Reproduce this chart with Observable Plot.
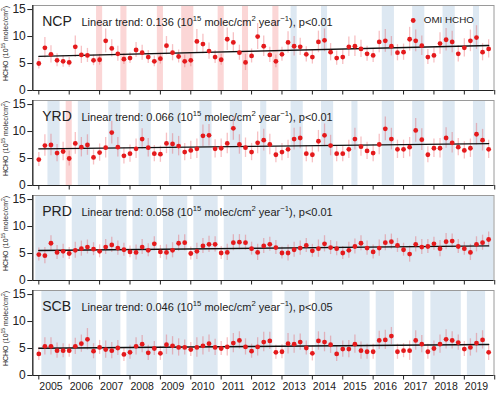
<!DOCTYPE html>
<html><head><meta charset="utf-8">
<script src="https://cdn.jsdelivr.net/npm/d3@7"></script>
<script src="https://cdn.jsdelivr.net/npm/@observablehq/plot@0.6"></script>
<style>body{margin:0;background:#fff} #chart{width:500px;height:393px;overflow:hidden}</style>
</head><body><div id="chart"></div>
<script>
// ---- data (5 warm-season months per year, 2005-2019) ----
const years = [2005,2006,2007,2008,2009,2010,2011,2012,2013,2014,2015,2016,2017,2018,2019];
const panelNames = ["NCP","YRD","PRD","SCB"];
const trendSlopes = [0.136, 0.066, 0.058, 0.046];
const trendP = ["p<0.01","p<0.01","p<0.01","p<0.05"];
const trendStarts = [6.33, 6.79, 5.55, 5.06];
const legendLabel = "OMI HCHO";
const yLabel = "HCHO (10^{15} molec/cm^{2})";

const ncpValues = [5.0,7.9,6.7,5.6,5.4, 5.2,8.1,6.6,6.5,5.6, 5.7,9.2,7.8,6.8,5.8, 6.0,7.5,7.0,6.2,5.4,
  5.9,8.3,7.0,6.3,5.4, 5.6,9.1,8.6,7.3,6.2, 5.7,9.5,8.9,7.0,5.2, 6.4,10.0,8.2,6.6,5.4,
  6.7,8.9,8.2,8.1,6.7, 6.2,9.0,9.3,7.1,6.0, 6.2,8.1,8.2,7.7,6.8, 6.5,9.0,9.2,8.2,7.0,
  7.1,9.5,9.2,8.3,6.2, 6.5,8.7,9.4,9.0,6.8, 7.9,9.2,9.8,7.1,7.7];
const ncpErrors = [1.0,1.9,1.6,1.2,1.1, 0.9,2.0,1.6,1.3,1.0, 1.0,2.2,1.6,1.4,1.0, 1.0,1.4,1.4,1.2,1.0,
  1.0,1.7,1.5,1.2,1.2, 1.2,2.2,1.8,1.5,1.2, 1.0,2.1,1.8,1.4,1.5, 1.3,2.4,1.9,1.4,1.2,
  1.3,2.0,1.8,1.6,1.4, 1.3,2.0,2.1,1.6,1.3, 1.4,1.8,1.9,1.6,1.4, 1.3,2.0,2.1,1.8,1.5,
  1.5,2.2,2.0,1.8,1.4, 1.4,2.0,2.1,2.0,1.5, 1.7,2.0,2.2,1.6,1.7];
const yrdValues = [4.8,7.4,7.5,6.0,6.3, 5.0,7.8,7.1,7.5,5.2, 6.1,7.0,9.8,7.1,5.5, 5.9,6.8,8.6,7.0,5.9,
  5.8,7.8,7.7,7.3,6.2, 6.5,6.8,9.2,9.3,6.8, 6.9,7.8,10.6,7.6,7.0, 6.2,7.9,8.4,7.6,5.7,
  6.2,6.7,8.6,8.8,5.9, 5.7,8.2,9.3,7.4,5.9, 5.9,6.7,8.6,7.2,6.4, 6.0,7.6,10.5,8.6,6.7,
  6.7,7.1,10.2,8.5,5.7, 6.9,6.9,8.8,7.9,7.1, 6.5,6.9,9.5,8.4,6.7];
const yrdErrors = [1.3,2.0,2.0,1.6,1.7, 1.4,2.0,1.8,1.9,1.4, 1.6,1.9,2.1,1.8,1.5, 1.6,1.8,1.9,1.7,1.5,
  1.5,1.9,1.9,1.8,1.6, 1.7,1.8,2.0,2.0,1.7, 1.7,1.9,2.2,1.8,1.8, 1.6,2.0,2.0,1.9,1.5,
  1.6,1.7,2.0,2.0,1.5, 1.5,2.0,2.1,1.9,1.5, 1.5,1.7,2.0,1.8,1.6, 1.6,1.9,2.2,2.0,1.7,
  1.7,1.8,2.2,2.0,1.5, 1.7,1.8,1.9,1.9,1.6, 1.6,1.7,2.0,2.0,1.7];
const prdValues = [4.8,4.6,6.9,5.2,5.4, 5.0,5.6,5.9,6.2,5.8, 5.4,6.2,6.6,6.0,5.7, 5.3,5.2,6.2,5.6,6.8,
  5.3,5.2,5.6,6.9,7.0, 5.0,5.4,6.4,6.7,6.7, 5.1,5.2,7.0,7.1,7.0, 5.9,5.2,6.4,6.7,6.1,
  5.1,5.1,5.7,6.0,6.5, 5.5,5.9,6.8,6.1,5.9, 5.1,5.6,6.3,6.9,6.0, 5.3,6.0,7.0,7.2,6.5,
  5.7,4.9,6.7,6.2,6.3, 6.8,5.9,7.2,7.3,6.3, 5.9,5.2,6.7,7.0,7.6];
const prdErrors = [1.2,1.5,1.4,1.3,1.3, 1.1,1.5,1.4,1.3,1.2, 1.2,1.4,1.4,1.3,1.2, 1.1,1.4,1.4,1.2,1.3,
  1.2,1.4,1.4,1.5,1.5, 1.2,1.5,1.4,1.5,1.4, 1.2,1.5,1.5,1.4,1.4, 1.2,1.5,1.4,1.3,1.3,
  1.1,1.5,1.4,1.3,1.3, 1.2,1.6,1.5,1.3,1.3, 1.2,1.5,1.4,1.4,1.3, 1.3,1.5,1.5,1.4,1.3,
  1.2,1.5,1.4,1.4,1.3, 1.2,1.5,1.5,1.3,1.3, 1.2,1.5,1.4,1.4,1.4];
const scbValues = [4.0,5.4,5.4,4.6,4.6, 4.6,5.4,5.9,6.7,4.5, 5.2,4.8,4.6,5.1,3.9, 4.3,5.4,5.8,4.2,5.0,
  4.1,5.7,5.5,5.2,5.2, 4.8,5.2,5.5,5.9,5.2, 5.0,5.3,6.0,6.5,5.3, 4.5,5.3,6.2,6.4,4.3,
  4.4,5.9,5.8,6.2,5.1, 4.1,6.4,6.2,5.7,4.0, 4.9,4.9,5.8,4.6,4.4, 4.4,6.5,6.6,7.3,4.4,
  4.6,4.6,6.5,5.8,4.4, 5.0,5.8,6.7,6.5,6.1, 4.9,5.2,6.0,6.6,4.3];
const scbErrors = [1.2,1.6,1.6,1.4,1.3, 1.2,1.5,1.6,2.0,1.4, 1.3,1.6,1.5,1.4,1.3, 1.3,1.6,1.6,1.4,1.3,
  1.3,1.8,1.7,1.6,1.4, 1.3,1.8,1.7,1.6,1.5, 1.3,1.7,1.8,1.6,1.5, 1.3,1.7,1.8,1.6,1.3,
  1.3,1.9,1.7,1.5,1.3, 1.4,1.7,1.8,1.6,1.4, 1.5,1.6,1.7,1.6,1.4, 1.4,1.7,1.8,1.6,1.4,
  1.3,1.8,1.8,1.6,1.4, 1.4,1.7,1.8,1.6,1.4, 1.4,1.6,1.8,1.7,1.5];

// shaded months as [first, last] month-index runs
const ncpPink = [[10,10],[14,14],[20,20],[24,25],[30,30],[34,34],[39,39]];
const ncpBlue = [[42,42],[47,47],[57,58],[62,63],[67,68],[72,72]];
const yrdPink = [[5,5]];
const yrdBlue = [[2,3],[7,8],[12,13],[17,18],[22,23],[27,28],[32,33],[37,37],[42,43],[47,48],[52,52],[57,58],[62,63],[67,68],[72,73]];
const prdPink = [];
const prdBlue = [[0,4],[6,9],[11,14],[16,19],[21,24],[26,29],[31,75]];
const scbPink = [];
const scbBlue = [[1,4],[6,9],[11,13],[15,19],[21,24],[26,29],[32,38],[41,44],[46,54],[56,58],[62,63],[65,69],[71,73]];

const valuesByPanel = [ncpValues, yrdValues, prdValues, scbValues];
const errorsByPanel = [ncpErrors, yrdErrors, prdErrors, scbErrors];
const pinkByPanel = [ncpPink, yrdPink, prdPink, scbPink];
const blueByPanel = [ncpBlue, yrdBlue, prdBlue, scbBlue];

// ---- drawing ----
const xDomain = [-0.99, 74.88];
const yDomain = [0, 15.75];
const RED = "#e41a1c";
const yearStarts = years.map((y, k) => k * 5).concat([75]);
const yearMids = years.map((y, k) => k * 5 + 2);

function runs(r) { return r.map(([a, b]) => ({x1: a - 0.5, x2: b + 0.5})); }

function panel(k) {
  const vals = valuesByPanel[k], errs = errorsByPanel[k];
  const data = vals.map((v, i) => ({i, v, lo: v - errs[i], hi: v + errs[i]}));
  const n = vals.length - 1;
  const yrs = n / 5;
  const trend = [{i: 0, v: trendStarts[k]}, {i: n, v: trendStarts[k] + trendSlopes[k] * yrs}];
  const last = k === 3;
  const marks = [
    Plot.rect(runs(blueByPanel[k]), {x1: "x1", x2: "x2", fill: "#dde8f2", clip: true}),
    Plot.rect(runs(pinkByPanel[k]), {x1: "x1", x2: "x2", fill: "#fbd6d6", clip: true}),
    Plot.frame({stroke: "#9a9a9a", strokeWidth: 1}),
    Plot.ruleX(data, {x: "i", y1: "lo", y2: "hi", stroke: "#e8414a", strokeOpacity: 0.33, strokeWidth: 1.3}),
    Plot.line(trend, {x: "i", y: "v", stroke: "#111", strokeWidth: 1.4}),
    Plot.dot(data, {x: "i", y: "v", r: 2.4, fill: RED}),
    Plot.ruleX([xDomain[0]], {stroke: "#222", strokeWidth: 1.2}),
    Plot.ruleY([0], {stroke: "#222", strokeWidth: 1.2}),
    Plot.axisY({ticks: [0, 5, 10, 15], tickSize: 5, tickPadding: 2, fontSize: 12, label: null, stroke: "#222"}),
    Plot.axisX({ticks: yearStarts, tickSize: 4.5, tickFormat: () => "", label: null, stroke: "#222"}),
    Plot.text([panelNames[k]], {frameAnchor: "top-left", dx: 9.4, dy: 16.5, fontSize: 14, textAnchor: "start", lineAnchor: "middle", fill: "#222"}),
    Plot.text(["Linear trend: " + trendSlopes[k].toFixed(3) + " (10^{15} molec/cm^{2} year^{\u22121}), " + trendP[k]],
      {frameAnchor: "top-left", dx: 48.7, dy: 16.6, fontSize: 11, textAnchor: "start", lineAnchor: "middle", fill: "#222"}),
    Plot.text([yLabel], {frameAnchor: "left", rotate: -90, dx: -27.3, dy: -4.5, fontSize: 7, textAnchor: "middle", lineAnchor: "middle", fill: "#222"})
  ];
  if (k === 0) {
    marks.push(Plot.dot([0], {frameAnchor: "top-right", dx: -80.8, dy: 15, r: 2.4, fill: RED}));
    marks.push(Plot.text([legendLabel], {frameAnchor: "top-right", dx: -70.2, dy: 14.6, fontSize: 9.8, textAnchor: "start", lineAnchor: "middle", fill: "#222"}));
  }
  if (last) {
    marks.push(Plot.axisX({ticks: yearMids, tickSize: 0, tickPadding: 7, fontSize: 10.5, label: null,
      tickFormat: d => String(years[(d - 2) / 5])}));
  }
  return Plot.plot({
    width: 500,
    height: last ? 108 : 95,
    marginLeft: 32.3, marginRight: 6.5, marginTop: 5, marginBottom: last ? 18 : 5,
    x: {domain: xDomain},
    y: {domain: yDomain},
    style: {fontFamily: "'Liberation Sans', Arial, sans-serif", background: "white", color: "#222", overflow: "visible"},
    marks
  });
}

function superscripts(svg) {
  svg.querySelectorAll("text").forEach(t => {
    const s = t.textContent;
    if (!s.includes("^{")) return;
    const fs = parseFloat(getComputedStyle(t).fontSize) || 10;
    while (t.firstChild) t.removeChild(t.firstChild);
    let raised = false;
    const add = (str, sup) => {
      if (!str) return;
      const ts = document.createElementNS("http://www.w3.org/2000/svg", "tspan");
      ts.textContent = str;
      if (sup) { ts.setAttribute("font-size", (fs * 0.7).toFixed(2)); if (!raised) ts.setAttribute("dy", (-fs * 0.4).toFixed(2)); raised = true; }
      else if (raised) { ts.setAttribute("dy", (fs * 0.4).toFixed(2)); raised = false; }
      t.appendChild(ts);
    };
    const re = /\^\{([^}]*)\}/g; let lastIdx = 0, m;
    while ((m = re.exec(s))) { add(s.slice(lastIdx, m.index), false); add(m[1], true); lastIdx = re.lastIndex; }
    add(s.slice(lastIdx), false);
  });
}

const chart = document.getElementById("chart");
for (let k = 0; k < 4; k++) {
  const svg = panel(k);
  chart.appendChild(svg);
  superscripts(svg);
}
</script>
</body></html>
